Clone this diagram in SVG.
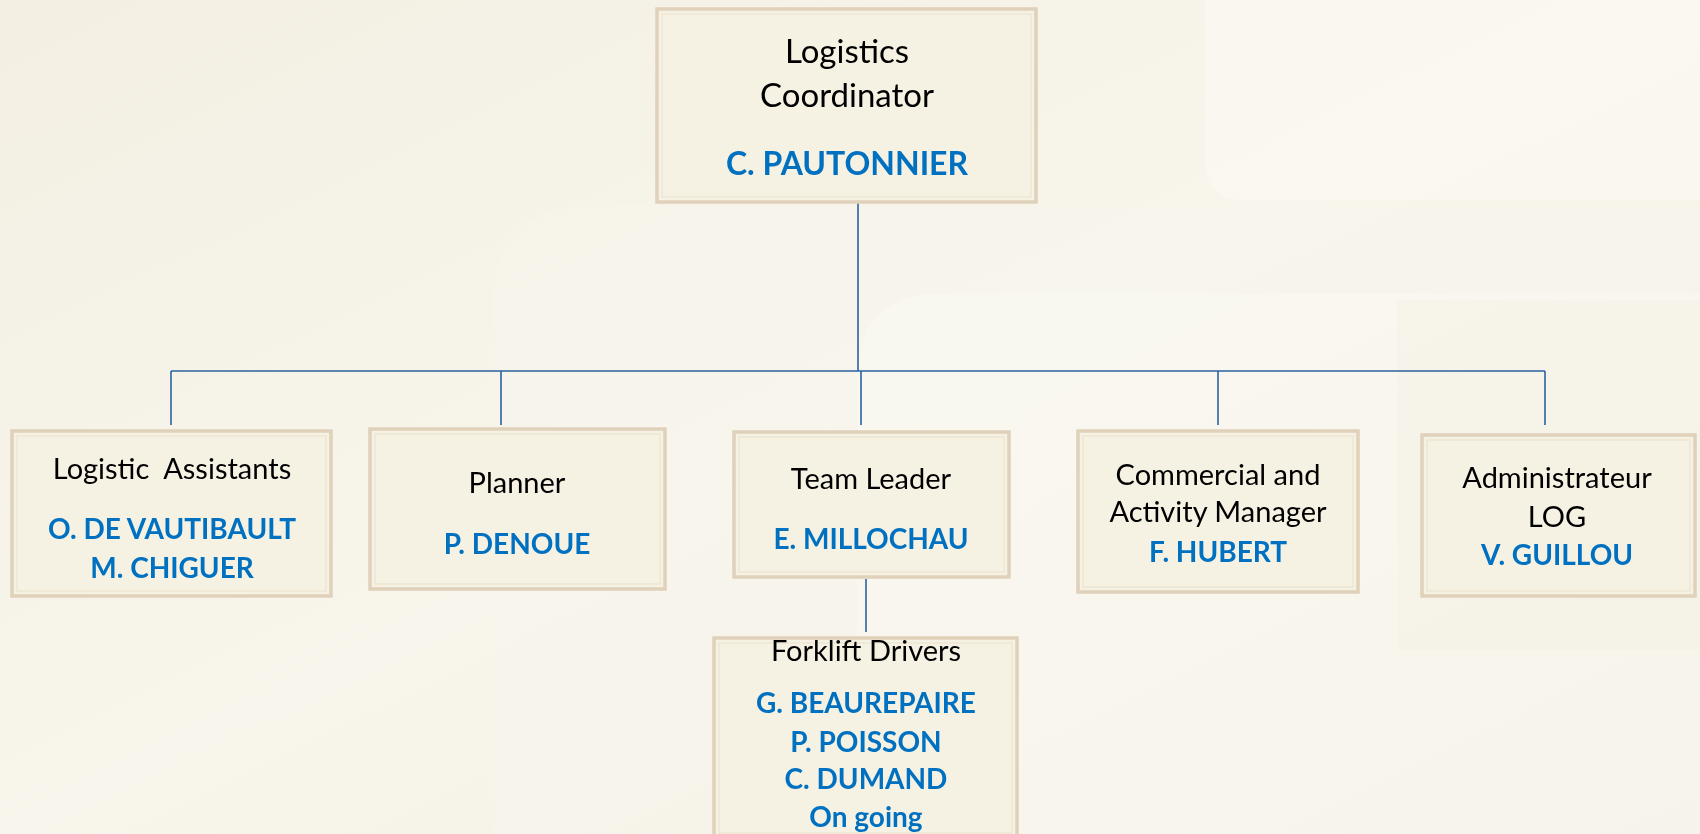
<svg xmlns="http://www.w3.org/2000/svg" width="1700" height="834" viewBox="0 0 1700 834">
<defs>
<linearGradient id="bg" x1="0" y1="0" x2="1" y2="1">
<stop offset="0" stop-color="#F3EFE3"/>
<stop offset="0.5" stop-color="#F8F5EC"/>
<stop offset="1" stop-color="#F2EEE2"/>
</linearGradient>
<style>
.box{fill:#F5F1E3;stroke:#DFD1BA;stroke-width:3.5}
.inner{fill:none;stroke:#EEE6D5;stroke-width:1.5}
.t{font-family:Lato,"Liberation Sans",sans-serif;fill:#000;text-anchor:middle}
.n{font-family:Lato,"Liberation Sans",sans-serif;font-weight:bold;fill:#0070C0;text-anchor:middle}
.c{fill:none;stroke:#2A63A0;stroke-width:1.6}
</style>
</defs>
<rect width="1700" height="834" fill="url(#bg)"/>
<g opacity="0.55">
<path d="M1205 0 H1700 V200 H1245 Q1205 200 1205 160 Z" fill="#FBF9F3"/>
<path d="M493 300 Q493 206 590 206 H1700 V834 H493 Z" fill="#F9F7F0" opacity="0.6"/>
<path d="M857 380 Q857 293 945 293 H1700 V834 H857 Z" fill="#FBFAF5" opacity="0.6"/>
<rect x="1397" y="300" width="303" height="350" fill="#F2EDE0" opacity="0.45"/>
</g>
<g id="connectors">
<path class="c" d="M858 203 V371"/>
<path class="c" d="M171 371 H1545"/>
<path class="c" d="M171 371 V425 M501 371 V425 M861 371 V425 M1218 371 V425 M1545 371 V425"/>
<path class="c" d="M866 579 V632"/>
</g>
<g id="coordinator">
<rect class="box" x="657" y="9" width="379" height="193"/>
<rect class="inner" x="662" y="14" width="369" height="183"/>
<text class="t" x="847" y="63" font-size="33">Logistics</text>
<text class="t" x="847" y="107" font-size="33">Coordinator</text>
<text class="n" x="847" y="175" font-size="32">C. PAUTONNIER</text>
</g>
<g id="assistants">
<rect class="box" x="12" y="431" width="319" height="165"/>
<rect class="inner" x="17" y="436" width="309" height="155"/>
<text class="t" x="172" y="479" font-size="29" xml:space="preserve">Logistic  Assistants</text>
<text class="n" x="172" y="539" font-size="28">O. DE VAUTIBAULT</text>
<text class="n" x="172" y="578" font-size="28">M. CHIGUER</text>
</g>
<g id="planner">
<rect class="box" x="370" y="429" width="295" height="160"/>
<rect class="inner" x="375" y="434" width="285" height="150"/>
<text class="t" x="517" y="493" font-size="29">Planner</text>
<text class="n" x="517" y="554" font-size="28">P. DENOUE</text>
</g>
<g id="teamleader">
<rect class="box" x="734" y="432" width="275" height="145"/>
<rect class="inner" x="739" y="437" width="265" height="135"/>
<text class="t" x="871" y="489" font-size="29">Team Leader</text>
<text class="n" x="871" y="549" font-size="28">E. MILLOCHAU</text>
</g>
<g id="forklift">
<rect class="box" x="714" y="638" width="303" height="200"/>
<rect class="inner" x="719" y="643" width="293" height="190"/>
<text class="t" x="866" y="661" font-size="29">Forklift Drivers</text>
<text class="n" x="866" y="713" font-size="28">G. BEAUREPAIRE</text>
<text class="n" x="866" y="752" font-size="28">P. POISSON</text>
<text class="n" x="866" y="789" font-size="28">C. DUMAND</text>
<text class="n" x="866" y="827" font-size="28">On going</text>
</g>
<g id="commercial">
<rect class="box" x="1078" y="431" width="280" height="161"/>
<rect class="inner" x="1083" y="436" width="270" height="151"/>
<text class="t" x="1218" y="485" font-size="29">Commercial and</text>
<text class="t" x="1218" y="522" font-size="29">Activity Manager</text>
<text class="n" x="1218" y="562" font-size="28">F. HUBERT</text>
</g>
<g id="administrateur">
<rect class="box" x="1422" y="435" width="273" height="161"/>
<rect class="inner" x="1427" y="440" width="263" height="151"/>
<text class="t" x="1557" y="488" font-size="29">Administrateur</text>
<text class="t" x="1557" y="527" font-size="29">LOG</text>
<text class="n" x="1557" y="565" font-size="28">V. GUILLOU</text>
</g>
</svg>
